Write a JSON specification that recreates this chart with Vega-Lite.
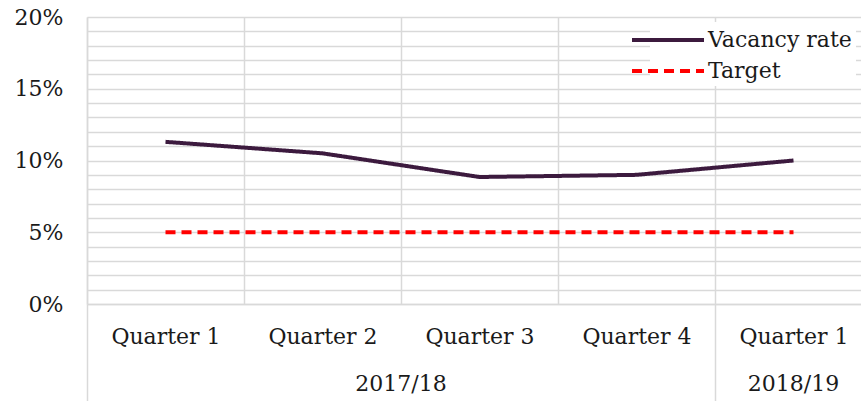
{
  "$schema": "https://vega.github.io/schema/vega-lite/v6.json",
  "width": 774,
  "height": 287,
  "autosize": {"type": "none"},
  "padding": {"left": 87, "top": 17, "right": 0, "bottom": 97},
  "background": "white",
  "config": {
    "view": {"stroke": null},
    "font": "DejaVu Serif",
    "legend": {"symbolType": "M-3,0H3", "symbolSize": 576, "symbolStrokeWidth": 4, "labelFontSize": 22, "labelColor": "#1a1a1a", "labelFont": "DejaVu Serif", "labelOffset": 26, "rowPadding": 6, "padding": 4, "fillColor": "white"}
  },
  "datasets": {
    "rates": [
      {"period": "2017/18 Q1", "series": "Vacancy rate", "rate": 11.3},
      {"period": "2017/18 Q2", "series": "Vacancy rate", "rate": 10.5},
      {"period": "2017/18 Q3", "series": "Vacancy rate", "rate": 8.85},
      {"period": "2017/18 Q4", "series": "Vacancy rate", "rate": 9.0},
      {"period": "2018/19 Q1", "series": "Vacancy rate", "rate": 10.0},
      {"period": "2017/18 Q1", "series": "Target", "rate": 5},
      {"period": "2017/18 Q2", "series": "Target", "rate": 5},
      {"period": "2017/18 Q3", "series": "Target", "rate": 5},
      {"period": "2017/18 Q4", "series": "Target", "rate": 5},
      {"period": "2018/19 Q1", "series": "Target", "rate": 5}
    ],
    "years": [
      {"period": "2017/18 Q3", "year": "2017/18"},
      {"period": "2018/19 Q1", "year": "2018/19"}
    ]
  },
  "layer": [
    {
      "data": {"name": "rates"},
      "mark": {"type": "line", "strokeWidth": 4, "strokeCap": "butt"},
      "encoding": {
        "x": {
          "field": "period", "type": "ordinal", "bandPosition": 0.5,
          "scale": {"type": "band", "domain": ["2017/18 Q1", "2017/18 Q2", "2017/18 Q3", "2017/18 Q4", "2018/19 Q1"], "range": [0, 785], "paddingInner": 0, "paddingOuter": 0},
          "axis": {
            "title": null, "tickBand": "extent", "grid": true, "gridColor": "#d9d9d9", "gridWidth": 1.5,
            "domainColor": "#d9d9d9", "domainWidth": 1.5,
            "ticks": true, "tickSize": 97, "tickColor": "#d9d9d9", "tickWidth": 1.5,
            "tickOpacity": {"condition": {"test": "datum.index === -1 || datum.value === '2017/18 Q4'", "value": 1}, "value": 0},
            "labelExpr": "datum.label ? 'Quarter ' + slice(datum.label, -1) : ''",
            "labelFontSize": 22, "labelFont": "DejaVu Serif", "labelPadding": -65, "labelColor": "#1a1a1a", "labelAngle": 0, "labelBaseline": "middle"
          }
        },
        "y": {
          "field": "rate", "type": "quantitative",
          "scale": {"domain": [0, 20], "nice": false, "zero": true},
          "axis": {
            "title": null, "values": [0,1,2,3,4,5,6,7,8,9,10,11,12,13,14,15,16,17,18,19,20],
            "grid": true, "gridColor": "#d9d9d9", "gridWidth": 1.5, "ticks": false,
            "domain": true, "domainColor": "#d9d9d9", "domainWidth": 1.5,
            "labelExpr": "datum.value % 5 === 0 ? datum.value + '%' : ''",
            "labelFontSize": 22, "labelFont": "DejaVu Serif", "labelPadding": 24, "labelOverlap": false, "labelColor": "#1a1a1a"
          }
        },
        "color": {
          "field": "series", "type": "nominal",
          "scale": {"domain": ["Vacancy rate", "Target"], "range": ["#3c1a3e", "#ff0000"]},
          "legend": {"title": null, "orient": "none", "legendX": 563, "legendY": 5}
        },
        "strokeDash": {
          "field": "series", "type": "nominal",
          "scale": {"domain": ["Vacancy rate", "Target"], "range": [[1, 0], [10, 6]]},
          "legend": {"title": null, "orient": "none", "legendX": 563, "legendY": 5}
        }
      }
    },
    {
      "data": {"name": "years"},
      "transform": [{"filter": "datum.year === '2017/18'"}],
      "mark": {"type": "text", "fontSize": 22, "font": "DejaVu Serif", "dy": 80, "baseline": "middle", "color": "#1a1a1a"},
      "encoding": {
        "x": {"field": "period", "type": "ordinal", "bandPosition": 0},
        "y": {
          "datum": 0, "type": "quantitative",
          "axis": {
            "title": null, "values": [0,1,2,3,4,5,6,7,8,9,10,11,12,13,14,15,16,17,18,19,20],
            "grid": true, "gridColor": "#d9d9d9", "gridWidth": 1.5, "ticks": false,
            "domain": true, "domainColor": "#d9d9d9", "domainWidth": 1.5,
            "labelExpr": "datum.value % 5 === 0 ? datum.value + '%' : ''",
            "labelFontSize": 22, "labelFont": "DejaVu Serif", "labelPadding": 24, "labelOverlap": false, "labelColor": "#1a1a1a"
          }
        },
        "text": {"field": "year"}
      }
    },
    {
      "data": {"name": "years"},
      "transform": [{"filter": "datum.year === '2018/19'"}],
      "mark": {"type": "text", "fontSize": 22, "font": "DejaVu Serif", "dy": 80, "baseline": "middle", "color": "#1a1a1a"},
      "encoding": {
        "x": {"field": "period", "type": "ordinal", "bandPosition": 0.5},
        "y": {
          "datum": 0, "type": "quantitative",
          "axis": {
            "title": null, "values": [0,1,2,3,4,5,6,7,8,9,10,11,12,13,14,15,16,17,18,19,20],
            "grid": true, "gridColor": "#d9d9d9", "gridWidth": 1.5, "ticks": false,
            "domain": true, "domainColor": "#d9d9d9", "domainWidth": 1.5,
            "labelExpr": "datum.value % 5 === 0 ? datum.value + '%' : ''",
            "labelFontSize": 22, "labelFont": "DejaVu Serif", "labelPadding": 24, "labelOverlap": false, "labelColor": "#1a1a1a"
          }
        },
        "text": {"field": "year"}
      }
    }
  ]
}
